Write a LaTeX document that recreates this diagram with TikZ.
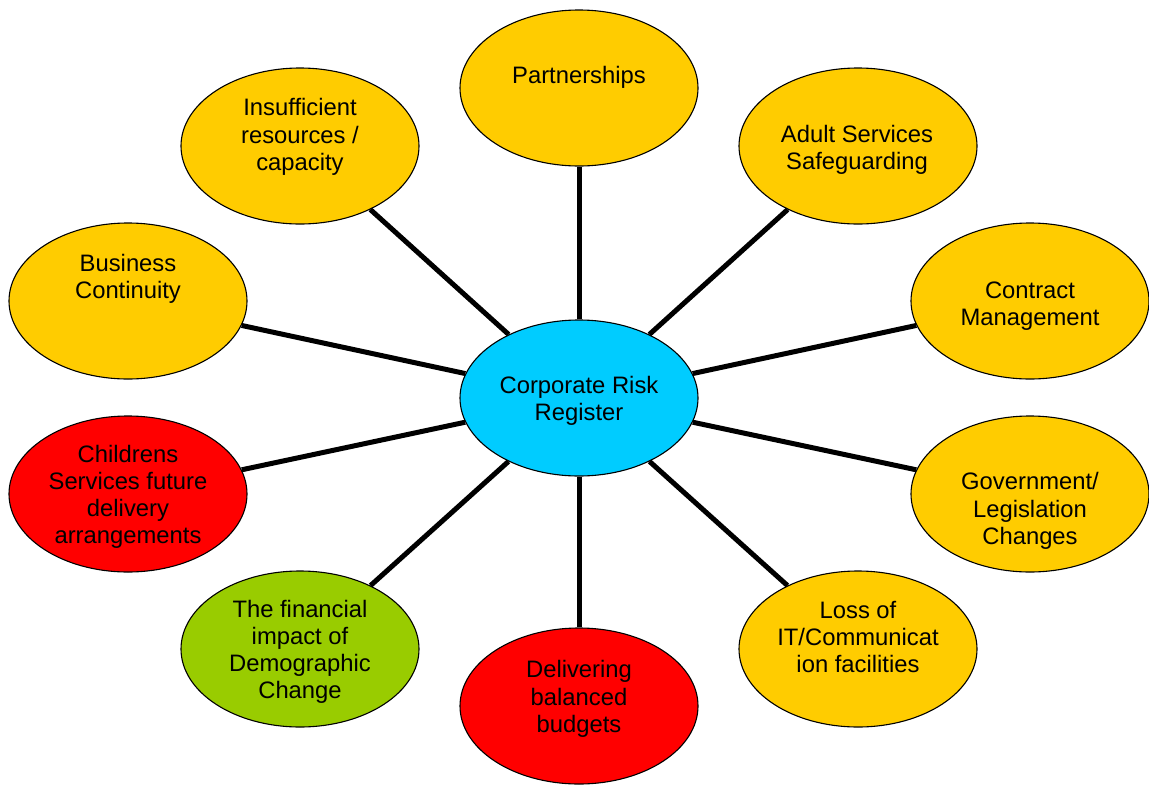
\documentclass[tikz,border=0pt]{standalone}
\usepackage{fontspec}
\setmainfont{Liberation Sans}
\usetikzlibrary{shapes.geometric}
\definecolor{ryellow}{HTML}{FFCC00}
\definecolor{rcyan}{HTML}{00CCFF}
\definecolor{rred}{HTML}{FF0000}
\definecolor{rgreen}{HTML}{99CC00}
\begin{document}
\begin{tikzpicture}[x=1pt,y=-1pt,
  blob/.style={ellipse,draw=black,line width=1.1pt,minimum width=238pt,minimum height=156pt,inner sep=0pt},
  lbl/.style={align=center,font=\fontsize{23.8}{27.2}\selectfont,inner sep=0pt,text=black},
  spoke/.style={line width=5pt,black}]
\useasboundingbox (0,0) rectangle (1149,785);
% ellipses
\node[blob,fill=rcyan]   (crr) at (579,398) {};
\node[blob,fill=ryellow] (par) at (579,88) {};
\node[blob,fill=ryellow] (asa) at (858,146) {};
\node[blob,fill=ryellow] (ins) at (300,146) {};
\node[blob,fill=ryellow] (bus) at (128,301) {};
\node[blob,fill=ryellow] (con) at (1030,301) {};
\node[blob,fill=rred]    (chi) at (128,494) {};
\node[blob,fill=ryellow] (gov) at (1030,494) {};
\node[blob,fill=rgreen]  (fin) at (300,649) {};
\node[blob,fill=ryellow] (los) at (858,649) {};
\node[blob,fill=rred]    (del) at (579,706) {};
% spokes
\foreach \n in {par,asa,ins,bus,con,chi,gov,fin,los,del}
  \draw[spoke] (crr) -- (\n);
% labels
\node[lbl] (tcrr) at (579,401) {Corporate Risk\\Register};
\node[lbl] (tpar) at (579,77) {Partnerships};
\node[lbl] (tasa) at (857,150) {Adult Services\\Safeguarding};
\node[lbl] (tins) at (300,137) {Insufficient\\resources /\\capacity};
\node[lbl] (tbus) at (128,279) {Business\\Continuity};
\node[lbl] (tcon) at (1030,306) {Contract\\Management};
\node[lbl] (tchi) at (128,497) {Childrens\\Services future\\delivery\\arrangements};
\node[lbl] (tgov) at (1030,511) {Government/\\Legislation\\Changes};
\node[lbl] (tfin) at (300,652) {The financial\\impact of\\Demographic\\Change};
\node[lbl] (tlos) at (858,637) {Loss of\\IT/Communicat\\ion facilities};
\node[lbl] (tdel) at (579,699) {Delivering\\balanced\\budgets};
\end{tikzpicture}
\end{document}
